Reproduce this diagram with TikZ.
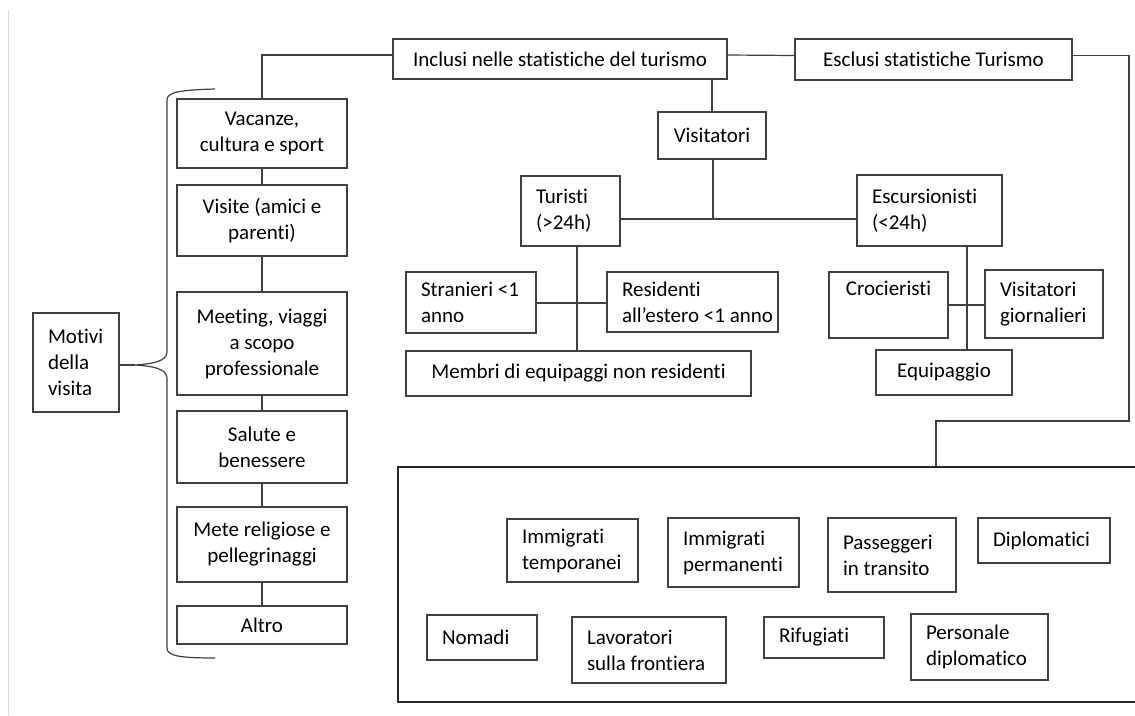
\documentclass[tikz,border=0pt]{standalone}
\usepackage{fontspec}
\setmainfont{Carlito}[Ligatures={NoCommon,NoRare}]
\usepackage{tikz}
\hyphenpenalty=10000
\exhyphenpenalty=10000

\begin{document}
\begin{tikzpicture}[x=1pt,y=-1pt,
  lines/.style={black!75,line width=1.2pt},
  cbox/.style={draw=black!75,line width=1.2pt,fill=white,align=center,
    inner xsep=4pt,inner ysep=0pt,font=\fontsize{21}{26}\selectfont},
  lbox/.style={cbox,align=flush left,inner xsep=15pt}]
  \useasboundingbox (0,0) rectangle (1135,715);

  % Sheet edge
  \draw[gray!30,line width=1pt] (8,10) -- (8,715);

  % Top row
  \node[cbox,minimum width=334pt,minimum height=40pt] (incl) at (560,59)
  	{Inclusi nelle statistiche del turismo};
  \node[cbox,minimum width=277pt,minimum height=41pt] (escl) at (933.5,59.5)
  	{Esclusi statistiche Turismo};

  % Visitatori
  \node[cbox,minimum width=108pt,minimum height=47pt] (visit) at (712,135.5) {Visitatori};
  \node[lbox,text width=69pt,minimum height=70pt] (tur) at (570.5,211) {Turisti\\(>24h)};
  \node[lbox,text width=115pt,minimum height=71pt] (esc) at (929.5,210.5) {Escursionisti\\(<24h)};

  % Turisti
  \node[lbox,text width=100pt,minimum height=61pt] (stran) at (471,302.5) {\mbox{Stranieri <1}\\anno};
  \node[lbox,text width=141pt,minimum height=60pt] (resid) at (692.5,302) {Residenti\\\mbox{all’estero <1 anno}};
  \node[cbox,minimum width=345pt,minimum height=45pt] (memb) at (578.5,373.5)
  	{Membri di equipaggi non residenti};

  % Escursionisti
  \node[cbox,minimum width=119pt,minimum height=66pt] (croc) at (888.5,305) {Crocieristi\\\strut};
  \node[lbox,text width=88pt,minimum height=68pt] (vgior) at (1044,304) {Visitatori\\giornalieri};
  \node[cbox,minimum width=136pt,minimum height=45pt] (equip) at (944,372.5) {Equipaggio};

  % Motivi della visita
  \node[lbox,text width=56pt,minimum height=99pt] (motivi) at (76,362.5) {Motivi\\della\\visita};
  \node[cbox,minimum width=170pt,minimum height=69pt] (vac) at (262,133.5) {Vacanze,\\cultura e sport};
  \node[cbox,minimum width=170pt,minimum height=71pt] (visite) at (262,220.5) {Visite (amici e\\parenti)};
  \node[cbox,minimum width=170pt,minimum height=103pt] (meet) at (262,343.5)
  	{Meeting, viaggi\\a scopo\\professionale};
  \node[cbox,minimum width=170pt,minimum height=72pt] (salute) at (262,447) {Salute e\\benessere};
  \node[cbox,minimum width=170pt,minimum height=75pt] (mete) at (262,544.5)
  	{Mete religiose e\\pellegrinaggi};
  \node[cbox,minimum width=170pt,minimum height=38pt] (altro) at (262,625) {Altro};

  % Esclusi
  \node[draw=black!85,line width=2.4pt,minimum width=742pt,minimum height=235pt] (excl)
  	at (769,584.5) {};
  \node[lbox,text width=101pt,minimum height=63pt] (imtemp) at (572.5,550.5) {Immigrati\\temporanei};
  \node[lbox,text width=101pt,minimum height=69pt] (imperm) at (733.5,552.5) {Immigrati\\permanenti};
  \node[lbox,text width=98pt,minimum height=74pt] (pass) at (892,555) {Passeggeri\\\mbox{in transito}};
  \node[lbox,text width=102pt,minimum height=45pt] (dipl) at (1044,540.5) {Diplomatici};
  \node[lbox,text width=80pt,minimum height=45pt] (nomadi) at (482,637.5) {Nomadi};
  \node[lbox,text width=124pt,minimum height=66pt] (lavor) at (649,650) {Lavoratori\\\mbox{sulla frontiera}};
  \node[lbox,text width=90pt,minimum height=41pt] (rifug) at (824,637.5) {Rifugiati};
  \node[lbox,text width=107pt,minimum height=66pt] (person) at (979.5,647) {Personale\\diplomatico};

  % Connectors
  \coordinate (vjoin) at (713,219);
  \coordinate (tjoin) at (577,303);
  \coordinate (ejoin) at (967,305);
  \coordinate (bend) at (1129,421);
  \coordinate (drop) at (936,421);
  \coordinate (tip) at (135,365);

  \draw[lines] (vac.north) |- ([yshift=4pt]incl.west);
  \draw[lines] ([yshift=4pt]incl.east) -- ([yshift=4pt]escl.west);
  \draw[lines] ([yshift=4pt]escl.east) -| (bend) -- (drop) -- (drop |- excl.north);
  \draw[lines] (incl.south -| visit.north) -- (visit.north);
  \draw[lines] (visit.south -| vjoin) -- (vjoin);
  \draw[lines] (tur.east |- vjoin) -- (esc.west |- vjoin);
  \draw[lines] (tur.south -| tjoin) -- (memb.north -| tjoin);
  \draw[lines] (stran.east |- tjoin) -- (resid.west |- tjoin);
  \draw[lines] (esc.south -| ejoin) -- (equip.north -| ejoin);
  \draw[lines] (croc.east |- ejoin) -- (vgior.west |- ejoin);
  \draw[lines] (vac) -- (visite) (visite) -- (meet) (meet) -- (salute)
  	(salute) -- (mete) (mete) -- (altro);

  % Brace
  \draw[lines] (215,89) .. controls (180,90) and (167,92) .. (167,100) -- (167,352)
  	.. controls (167,362) and (150,364) .. (tip)
  	.. controls (150,366) and (167,368) .. (167,378) -- (167,648)
  	.. controls (167,656) and (180,658) .. (215,658);
  \draw[lines] (tip -| motivi.east) -- (tip);
\end{tikzpicture}
\end{document}
